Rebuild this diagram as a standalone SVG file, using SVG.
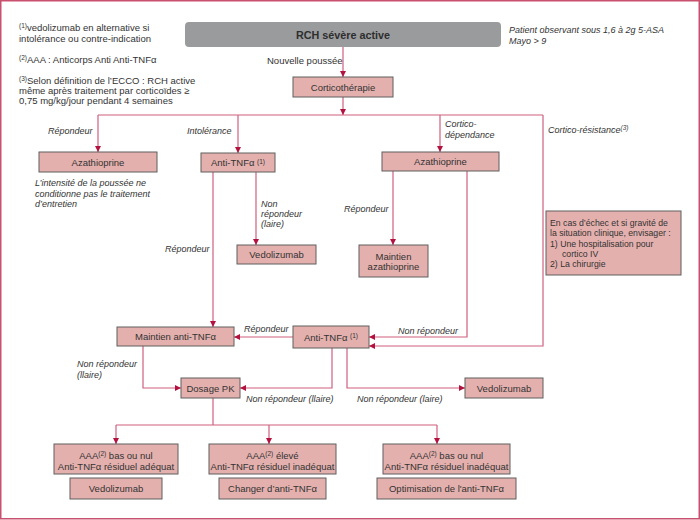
<svg xmlns="http://www.w3.org/2000/svg" width="700" height="520" viewBox="0 0 700 520">
<defs>
<marker id="ah" markerUnits="userSpaceOnUse" markerWidth="7" markerHeight="7" refX="6" refY="3" orient="auto">
<path d="M0,0 L6,3 L0,6 z" fill="#b3123f"/>
</marker>
<style>
text{font-family:"Liberation Sans",Arial,sans-serif;font-size:9.5px;fill:#333;}
.it{font-style:italic;font-size:9px;}
.c{text-anchor:middle;}
.sup{font-size:6.5px;}
.inf{font-size:8.7px;}
.box{fill:#e4b0ad;stroke:#5f5f5f;stroke-width:1;}
.ln{fill:none;stroke:#d0607f;stroke-width:1.2;}
.ar{marker-end:url(#ah);}
</style>
</defs>
<rect x="0.75" y="0.75" width="698.5" height="518" fill="#fff" stroke="#c9506f" stroke-width="1.5"/>

<g id="notes">
<text x="19" y="31"><tspan class="sup" dy="-3">(1)</tspan><tspan dy="3">vedolizumab en alternative si</tspan></text>
<text x="19" y="42">intolérance ou contre-indication</text>
<text x="19" y="63"><tspan class="sup" dy="-3">(2)</tspan><tspan dy="3">AAA : Anticorps Anti Anti-TNFα</tspan></text>
<text x="19" y="84"><tspan class="sup" dy="-3">(3)</tspan><tspan dy="3">Selon définition de l’ECCO : RCH active</tspan></text>
<text x="19" y="94">même après traitement par corticoïdes ≥</text>
<text x="19" y="104">0,75 mg/kg/jour pendant 4 semaines</text>
<text class="it" x="509" y="33">Patient observant sous 1,6 à 2g 5-ASA</text>
<text class="it" x="509" y="44">Mayo &gt; 9</text>
</g>

<g id="connectors">
<path class="ln ar" d="M343,47 V77"/>
<path class="ln ar" d="M343,97 V115"/>
<path class="ln" d="M98,115 H543"/>
<path class="ln ar" d="M98,115 V152"/>
<path class="ln ar" d="M238,115 V153"/>
<path class="ln ar" d="M440,115 V152"/>
<path class="ln ar" d="M543,115 V346 H369"/>
<path class="ln ar" d="M213,172 V327"/>
<path class="ln ar" d="M256,172 V245"/>
<path class="ln ar" d="M393,171 V245"/>
<path class="ln ar" d="M467,171 V337 H369"/>
<path class="ln ar" d="M293,337 H234"/>
<path class="ln ar" d="M143,346 V388 H181"/>
<path class="ln ar" d="M332,348 V388 H240"/>
<path class="ln ar" d="M347,348 V388 H465"/>
<path class="ln" d="M213,398 V425"/>
<path class="ln" d="M116,425 H437"/>
<path class="ln ar" d="M116,425 V444"/>
<path class="ln ar" d="M269,425 V444"/>
<path class="ln ar" d="M437,425 V444"/>
</g>

<g id="labels">
<text x="267" y="63.5">Nouvelle poussée</text>
<text class="it" x="48" y="134">Répondeur</text>
<text class="it" x="187" y="134">Intolérance</text>
<text class="it" x="445" y="126.5">Cortico-</text>
<text class="it" x="445" y="137.5">dépendance</text>
<text class="it" x="548" y="132.5">Cortico-résistance<tspan class="sup" dy="-3">(3)</tspan></text>
<text class="it" x="35" y="185.5">L’intensité de la poussée ne</text>
<text class="it" x="35" y="196.5">conditionne pas le traitement</text>
<text class="it" x="35" y="206.5">d’entretien</text>
<text class="it" x="261" y="206.5">Non</text>
<text class="it" x="261" y="216.5">répondeur</text>
<text class="it" x="261" y="227">(laire)</text>
<text class="it" x="165" y="251.5">Répondeur</text>
<text class="it" x="344" y="211.5">Répondeur</text>
<text class="it" x="244" y="331.5">Répondeur</text>
<text class="it" x="398" y="333.5">Non répondeur</text>
<text class="it" x="77" y="366.5">Non répondeur</text>
<text class="it" x="77" y="377.5">(llaire)</text>
<text class="it" x="246" y="401.5">Non répondeur (llaire)</text>
<text class="it" x="357" y="401.5">Non répondeur (laire)</text>
</g>

<g id="title">
<rect x="185" y="22" width="316" height="25" rx="4" fill="#9a9b9d"/>
<text class="c" x="343" y="38.5" style="font-size:10.8px;font-weight:bold;fill:#2e2e2e">RCH sévère active</text>
</g>
<g id="corticotherapie">
<rect class="box" x="293" y="77" width="100" height="20"/>
<text class="c" x="343" y="90.5">Corticothérapie</text>
</g>
<g id="azathioprine1">
<rect class="box" x="39" y="152" width="118" height="20"/>
<text class="c" x="98" y="165.5">Azathioprine</text>
</g>
<g id="antitnf1">
<rect class="box" x="201" y="153" width="74" height="19"/>
<text class="c" x="238" y="166">Anti-TNFα <tspan class="sup" dy="-2.5">(1)</tspan></text>
</g>
<g id="azathioprine2">
<rect class="box" x="382" y="152" width="117" height="19"/>
<text class="c" x="440.5" y="165">Azathioprine</text>
</g>
<g id="vedolizumab1">
<rect class="box" x="237" y="245" width="79" height="19"/>
<text class="c" x="276.5" y="258">Vedolizumab</text>
</g>
<g id="maintien-aza">
<rect class="box" x="359" y="245" width="69" height="32"/>
<text class="c" x="393.5" y="259.5">Maintien</text>
<text class="c" x="393.5" y="270">azathioprine</text>
</g>
<g id="info">
<rect class="box" x="546" y="211" width="135" height="64"/>
<text class="inf" x="550" y="225.5">En cas d’échec et si gravité de</text>
<text class="inf" x="550" y="236">la situation clinique, envisager :</text>
<text class="inf" x="550" y="246.5">1) Une hospitalisation pour</text>
<text class="inf" x="562" y="256.5">cortico IV</text>
<text class="inf" x="550" y="266.5">2) La chirurgie</text>
</g>
<g id="maintien-antitnf">
<rect class="box" x="117" y="327" width="117" height="19"/>
<text class="c" x="175.5" y="340">Maintien anti-TNFα</text>
</g>
<g id="antitnf2">
<rect class="box" x="293" y="326" width="76" height="22"/>
<text class="c" x="331" y="340.5">Anti-TNFα <tspan class="sup" dy="-2.5">(1)</tspan></text>
</g>
<g id="dosage">
<rect class="box" x="181" y="378" width="59" height="20"/>
<text class="c" x="210.5" y="391.5">Dosage PK</text>
</g>
<g id="vedolizumab2">
<rect class="box" x="465" y="378" width="78" height="20"/>
<text class="c" x="504" y="391.5">Vedolizumab</text>
</g>
<g id="case1">
<rect class="box" x="54" y="444" width="124" height="30"/>
<text class="c" x="116" y="458.5">AAA<tspan class="sup" dy="-3">(2)</tspan><tspan dy="3"> bas ou nul</tspan></text>
<text class="c" x="116" y="469.5">Anti-TNFα résiduel adéquat</text>
</g>
<g id="action1">
<rect class="box" x="70" y="478" width="92" height="21"/>
<text class="c" x="116" y="492">Vedolizumab</text>
</g>
<g id="case2">
<rect class="box" x="209" y="444" width="127" height="30"/>
<text class="c" x="272.5" y="458.5">AAA<tspan class="sup" dy="-3">(2)</tspan><tspan dy="3"> élevé</tspan></text>
<text class="c" x="272.5" y="469.5">Anti-TNFα résiduel inadéquat</text>
</g>
<g id="action2">
<rect class="box" x="219" y="478" width="107" height="21"/>
<text class="c" x="272.5" y="492">Changer d’anti-TNFα</text>
</g>
<g id="case3">
<rect class="box" x="383" y="444" width="127" height="30"/>
<text class="c" x="446.5" y="458.5">AAA<tspan class="sup" dy="-3">(2)</tspan><tspan dy="3"> bas ou nul</tspan></text>
<text class="c" x="446.5" y="469.5">Anti-TNFα résiduel inadéquat</text>
</g>
<g id="action3">
<rect class="box" x="377" y="478" width="139" height="21"/>
<text class="c" x="446.5" y="492">Optimisation de l'anti-TNFα</text>
</g>
</svg>
